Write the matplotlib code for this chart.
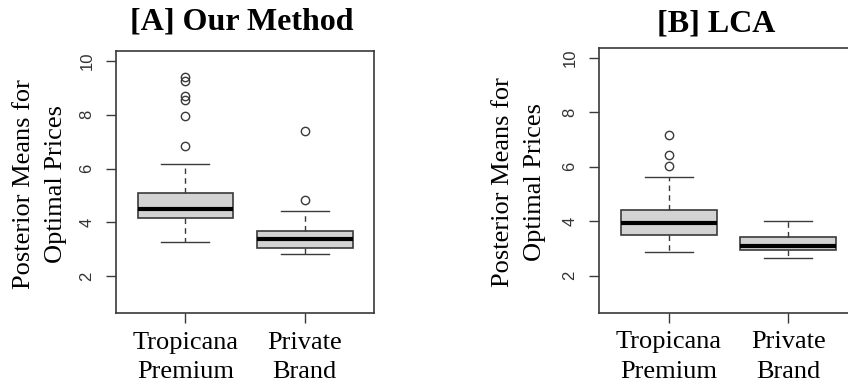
import numpy as np
import matplotlib
matplotlib.use('Agg')
import matplotlib.pyplot as plt

# box summaries: [Tropicana Premium, Private Brand]
groups = ['Tropicana\nPremium', 'Private\nBrand']

a_whislo = [3.26, 2.84]
a_q1 = [4.18, 3.05]
a_med = [4.50, 3.37]
a_q3 = [5.10, 3.70]
a_whishi = [6.16, 4.41]
a_fliers = [[6.83, 7.96, 8.54, 8.69, 9.25, 9.41], [4.82, 7.41]]

b_whislo = [2.85, 2.64]
b_q1 = [3.48, 2.95]
b_med = [3.92, 3.10]
b_q3 = [4.41, 3.40]
b_whishi = [5.61, 3.99]
b_fliers = [[6.02, 6.41, 7.17], []]

yticks = [2, 4, 6, 8, 10]

W, H = 848, 385
serif = 'Liberation Serif'
sans = 'Liberation Sans'
edge = '#3a3a3a'


def stats(lo, q1, med, q3, hi, fl):
    out = []
    for i in range(len(lo)):
        out.append(dict(whislo=lo[i], q1=q1[i], med=med[i], q3=q3[i],
                        whishi=hi[i], fliers=fl[i], label=groups[i]))
    return out


def panel(fig, rect, st):
    ax = fig.add_axes(rect)
    ax.bxp(st, positions=[1, 2], widths=0.8, patch_artist=True,
           boxprops=dict(facecolor='#d3d3d3', edgecolor=edge, linewidth=1.2),
           medianprops=dict(color='black', linewidth=3),
           whiskerprops=dict(color=edge, linewidth=1.0, linestyle=(0, (4, 3))),
           capprops=dict(color=edge, linewidth=1.0),
           flierprops=dict(marker='o', markersize=6, markerfacecolor='none',
                           markeredgecolor=edge, markeredgewidth=1.0))
    ax.set_xlim(0.42, 2.58)
    ax.set_ylim(0.64, 10.36)
    ax.set_yticks(yticks)
    ax.set_yticklabels([str(t) for t in yticks], rotation=90, va='center',
                       family=sans, fontsize=12, color='#333333')
    ax.set_xticks([1, 2])
    ax.set_xticklabels(groups, family=serif, fontsize=19, linespacing=1.45)
    ax.tick_params(axis='y', length=7.5, width=1.0, color=edge, pad=8)
    ax.tick_params(axis='x', length=7.5, width=1.0, color=edge, pad=6)
    for s in ax.spines.values():
        s.set_color(edge)
        s.set_linewidth(1.2)
    return ax


fig = plt.figure(figsize=(W / 100, H / 100), dpi=100)

panel(fig, [116 / W, (H - 313) / H, 258 / W, 262 / H],
      stats(a_whislo, a_q1, a_med, a_q3, a_whishi, a_fliers))
panel(fig, [599 / W, (H - 312.7) / H, 259 / W, 265 / H],
      stats(b_whislo, b_q1, b_med, b_q3, b_whishi, b_fliers))

ylab = 'Posterior Means for\nOptimal Prices'
fig.text(40 / W, 1 - 184 / H, ylab, rotation=90, ha='center', va='center',
         family=serif, fontsize=19, linespacing=1.55, multialignment='center')
fig.text(519 / W, 1 - 182 / H, ylab, rotation=90, ha='center', va='center',
         family=serif, fontsize=19, linespacing=1.55, multialignment='center')

fig.text(242 / W, 1 - 29 / H, '[A] Our Method', ha='center', va='baseline',
         family=serif, fontsize=23, fontweight='bold')
fig.text(716 / W, 1 - 31 / H, '[B] LCA', ha='center', va='baseline',
         family=serif, fontsize=23, fontweight='bold')

fig.savefig('out.png', dpi=100)
